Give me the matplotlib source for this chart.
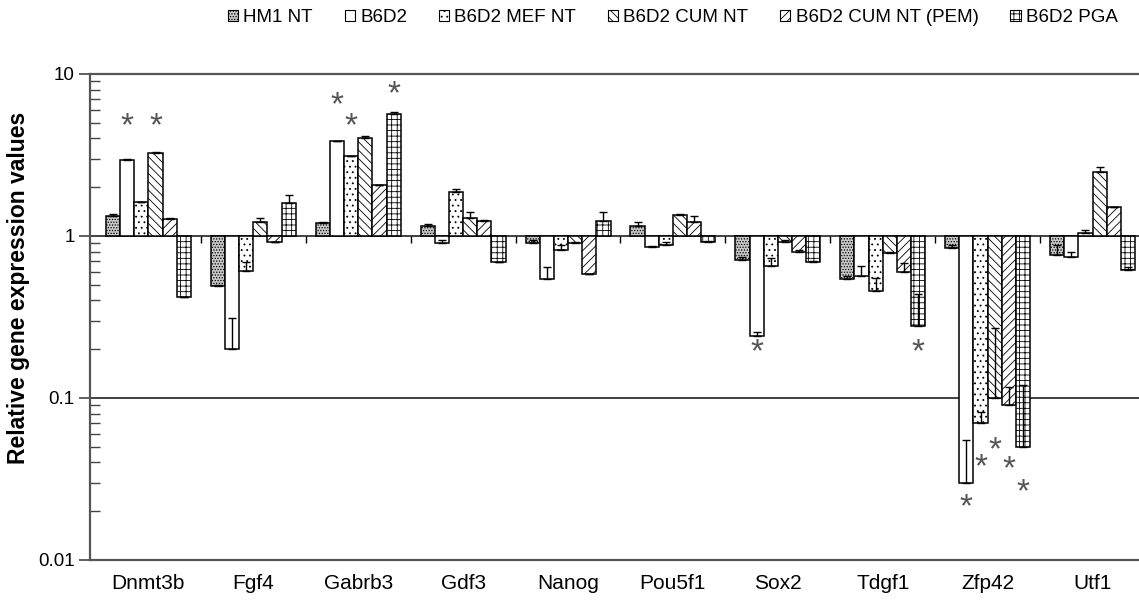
import numpy as np
import matplotlib
matplotlib.use("Agg")
import matplotlib.pyplot as plt
from matplotlib.patches import Patch

plt.rcParams["font.family"] = ["Liberation Sans", "DejaVu Sans"]
plt.rcParams["hatch.linewidth"] = 0.6

# Data
genes = ["Dnmt3b", "Fgf4", "Gabrb3", "Gdf3", "Nanog", "Pou5f1", "Sox2", "Tdgf1", "Zfp42", "Utf1"]
series = ["HM1 NT", "B6D2", "B6D2 MEF NT", "B6D2 CUM NT", "B6D2 CUM NT (PEM)", "B6D2 PGA"]

hm1_nt = [1.33, 0.49, 1.20, 1.15, 0.91, 1.15, 0.71, 0.54, 0.84, 0.76]
b6d2 = [2.95, 0.20, 3.85, 0.90, 0.54, 0.86, 0.24, 0.57, 0.030, 0.74]
mef_nt = [1.62, 0.61, 3.10, 1.87, 0.82, 0.88, 0.65, 0.46, 0.070, 1.04]
cum_nt = [3.25, 1.22, 4.00, 1.30, 0.90, 1.35, 0.92, 0.78, 0.100, 2.50]
cum_pem = [1.27, 0.92, 2.05, 1.23, 0.58, 1.22, 0.80, 0.60, 0.091, 1.51]
pga = [0.42, 1.60, 5.65, 0.69, 1.24, 0.92, 0.69, 0.28, 0.050, 0.62]

hm1_nt_err = [0.04, 0.01, 0.02, 0.03, 0.03, 0.07, 0.03, 0.03, 0.04, 0.12]
b6d2_err = [0.04, 0.11, 0.03, 0.04, 0.10, 0.01, 0.015, 0.08, 0.025, 0.06]
mef_nt_err = [0.0, 0.08, 0.0, 0.08, 0.06, 0.04, 0.08, 0.09, 0.012, 0.05]
cum_nt_err = [0.04, 0.07, 0.12, 0.10, 0.02, 0.02, 0.02, 0.02, 0.17, 0.15]
cum_pem_err = [0.02, 0.0, 0.0, 0.02, 0.0, 0.11, 0.02, 0.08, 0.026, 0.0]
pga_err = [0.0, 0.20, 0.20, 0.0, 0.16, 0.01, 0.01, 0.16, 0.07, 0.02]

# significance stars: gene index, series index, y value
star_gene = [0, 0, 2, 2, 2, 6, 7, 8, 8, 8, 8, 8]
star_series = [1, 3, 1, 2, 5, 1, 5, 1, 2, 3, 4, 5]
star_y = [4.7, 4.7, 6.4, 4.7, 7.4, 0.19, 0.19, 0.021, 0.037, 0.047, 0.036, 0.026]

values = [hm1_nt, b6d2, mef_nt, cum_nt, cum_pem, pga]
errors = [hm1_nt_err, b6d2_err, mef_nt_err, cum_nt_err, cum_pem_err, pga_err]
styles = [
    dict(facecolor="#c8c8c8", hatch="......"),
    dict(facecolor="white", hatch=None),
    dict(facecolor="white", hatch="..."),
    dict(facecolor="white", hatch="\\\\\\\\"),
    dict(facecolor="white", hatch="////"),
    dict(facecolor="white", hatch="+++"),
]

fig = plt.figure(figsize=(11.39, 6.01), dpi=100)
ax = fig.add_axes([90 / 1139, 1 - 560 / 601, 1 - 90 / 1139, (560 - 74) / 601])

x = np.arange(len(genes))
w = 0.135
for j, (vals, errs, st) in enumerate(zip(values, errors, styles)):
    vals = np.array(vals)
    pos = x + (j - 2.5) * w
    ax.bar(pos, vals - 1, bottom=1, width=w, edgecolor="black", linewidth=1.1,
           facecolor=st["facecolor"], hatch=st["hatch"], zorder=3)
    ax.errorbar(pos, vals, yerr=[np.zeros_like(vals), np.array(errs)], fmt="none",
                ecolor="black", elinewidth=1.0, capsize=3, capthick=1.0, zorder=4)

for g, s, yv in zip(star_gene, star_series, star_y):
    ax.text(g + (s - 2.5) * w, yv, "*", ha="center", va="center",
            fontsize=24, color="#555555", zorder=5)

ax.set_yscale("log")
ax.set_ylim(0.01, 10)
ax.set_xlim(-0.557, 9.443)
ax.set_yticks([0.01, 0.1, 1, 10])
ax.set_yticklabels(["0.01", "0.1", "1", "10"], fontsize=13.5)
ax.tick_params(axis="y", which="major", direction="out", length=8, width=1.2, color="#444444", pad=3)
ax.tick_params(axis="y", which="minor", direction="in", length=7, width=1.0, color="#444444")
ax.yaxis.grid(True, which="major", color="#333333", linewidth=1.3, zorder=1)
ax.set_axisbelow(True)

# category axis crosses at 1, with ticks between groups
ax.vlines(np.arange(len(genes) - 1) + 0.5, 10 ** (-7 / 162), 1, color="black", linewidth=1.0, zorder=2)

ax.set_xticks(x)
ax.set_xticklabels(genes, fontsize=15)
ax.tick_params(axis="x", length=0, pad=10)

for side in ["left", "top", "bottom"]:
    ax.spines[side].set_color("#555555")
    ax.spines[side].set_linewidth(1.6)
ax.spines["right"].set_visible(False)

ax.set_ylabel("Relative gene expression values", fontsize=16.5, fontweight="bold")
ax.yaxis.set_label_coords(-60 / 1049, 0.56)

handles = [Patch(facecolor=st["facecolor"], hatch=st["hatch"], edgecolor="black", linewidth=0.8)
           for st in styles]
fig.legend(handles, series, loc="upper left", bbox_to_anchor=(211 / 1139, 1 + 8 / 601),
           ncol=6, frameon=False, handlelength=0.55, handleheight=0.55,
           handletextpad=0.27, columnspacing=1.7, prop={"size": 13.5})

fig.savefig("out.png", dpi=100)
